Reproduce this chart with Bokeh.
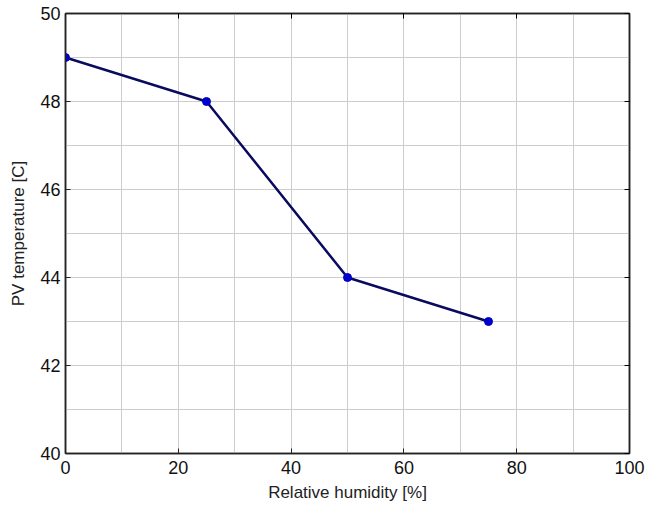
from bokeh.plotting import figure
from bokeh.models import LinearAxis, FixedTicker, Range1d
from bokeh.embed import file_html
from bokeh.resources import INLINE

humidity = [0, 25, 50, 75]
temperature = [49, 48, 44, 43]
x_ticks = [0, 20, 40, 60, 80, 100]
y_ticks = [40, 42, 44, 46, 48, 50]

p = figure(width=647, height=513, output_backend="svg", toolbar_location=None,
           x_range=Range1d(0, 100), y_range=Range1d(40, 50),
           min_border_left=65, min_border_right=18, min_border_top=13, min_border_bottom=60,
           x_axis_label="Relative humidity [%]", y_axis_label="PV temperature [C]")
p.background_fill_color = "white"
p.border_fill_color = "white"
p.outline_line_color = "#222222"
p.outline_line_width = 1.5

for ax, ticks in ((p.xaxis[0], x_ticks), (p.yaxis[0], y_ticks)):
    ax.ticker = FixedTicker(ticks=ticks, minor_ticks=[t + (ticks[1]-ticks[0])/2 for t in ticks[:-1]])
    ax.major_tick_in = 5
    ax.major_tick_out = 0
    ax.minor_tick_in = 0
    ax.minor_tick_out = 0
    ax.axis_line_color = "#222222"
    ax.axis_line_width = 1.5
    ax.major_tick_line_color = "#222222"
    ax.major_label_text_font = "Liberation Sans"
    ax.major_label_text_font_size = "18px"
    ax.major_label_text_color = "#111111"
    ax.axis_label_text_font = "Liberation Sans"
    ax.axis_label_text_font_size = "17px"
    ax.axis_label_text_font_style = "normal"
    ax.axis_label_text_color = "#222222"
p.xaxis.major_label_standoff = 7
p.yaxis.major_label_standoff = 5
p.xaxis.axis_label_standoff = 6
p.yaxis.axis_label_standoff = 9

for ticks, loc in ((y_ticks, "right"), (x_ticks, "above")):
    ax = LinearAxis()
    ax.ticker = FixedTicker(ticks=ticks)
    ax.major_tick_in = 5
    ax.major_tick_out = 0
    ax.minor_tick_in = 0
    ax.minor_tick_out = 0
    ax.major_label_text_font_size = "0px"
    ax.major_label_text_alpha = 0
    ax.major_label_overrides = {t: "" for t in ticks}
    ax.axis_line_color = "#222222"
    ax.axis_line_width = 1.5
    p.add_layout(ax, loc)

for g in (p.xgrid[0], p.ygrid[0]):
    g.grid_line_color = "#cccccc"
    g.grid_line_width = 1
    g.minor_grid_line_color = "#cccccc"
    g.minor_grid_line_width = 1

p.line(humidity, temperature, line_color="#0a0a5e", line_width=2.5)
p.scatter(humidity, temperature, marker="circle", size=8, fill_color="#0000cc", line_color="#0000cc")

open("out.html", "w").write(file_html(p, INLINE))
